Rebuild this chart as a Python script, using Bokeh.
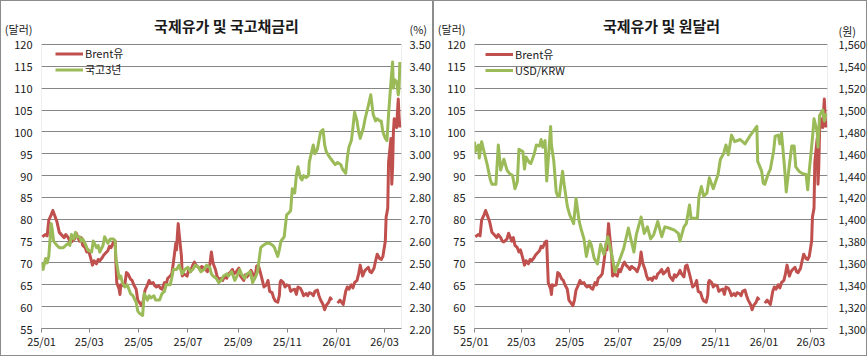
import numpy as np
import pandas as pd
from bokeh.plotting import figure
from bokeh.layouts import row
from bokeh.models import (Range1d, LinearAxis, FixedTicker, DatetimeTickFormatter,
                          NumeralTickFormatter, Label, Legend, LegendItem, ColumnDataSource,
                          BoxAnnotation)
from bokeh.embed import file_html
from bokeh.resources import INLINE

# ---------------- data ----------------
brent_dates = [
    "2025-01-02", "2025-01-06", "2025-01-08", "2025-01-10", "2025-01-13", "2025-01-15", "2025-01-17",
    "2025-01-20", "2025-01-23", "2025-01-27", "2025-01-29", "2025-01-31", "2025-02-03", "2025-02-05",
    "2025-02-07", "2025-02-11", "2025-02-13", "2025-02-17", "2025-02-19", "2025-02-21", "2025-02-24",
    "2025-02-26", "2025-02-28", "2025-03-03", "2025-03-05", "2025-03-07", "2025-03-10", "2025-03-12",
    "2025-03-14", "2025-03-17", "2025-03-19", "2025-03-21", "2025-03-24", "2025-03-26", "2025-03-28",
    "2025-03-31", "2025-04-02", "2025-04-03", "2025-04-04", "2025-04-07", "2025-04-08", "2025-04-09",
    "2025-04-11", "2025-04-14", "2025-04-16", "2025-04-18", "2025-04-21", "2025-04-23", "2025-04-25",
    "2025-04-28", "2025-04-30", "2025-05-02", "2025-05-05", "2025-05-07", "2025-05-09", "2025-05-12",
    "2025-05-14", "2025-05-16", "2025-05-19", "2025-05-21", "2025-05-23", "2025-05-26", "2025-05-28",
    "2025-05-30", "2025-06-02", "2025-06-04", "2025-06-06", "2025-06-09", "2025-06-11", "2025-06-13",
    "2025-06-16", "2025-06-17", "2025-06-18", "2025-06-19", "2025-06-20", "2025-06-23", "2025-06-24",
    "2025-06-26", "2025-06-30", "2025-07-02", "2025-07-04", "2025-07-07", "2025-07-09", "2025-07-11",
    "2025-07-14", "2025-07-16", "2025-07-18", "2025-07-21", "2025-07-23", "2025-07-25", "2025-07-28",
    "2025-07-30", "2025-08-01", "2025-08-04", "2025-08-06", "2025-08-08", "2025-08-11", "2025-08-13",
    "2025-08-15", "2025-08-18", "2025-08-20", "2025-08-22", "2025-08-25", "2025-08-27", "2025-08-29",
    "2025-09-02", "2025-09-04", "2025-09-08", "2025-09-10", "2025-09-12", "2025-09-15", "2025-09-17",
    "2025-09-19", "2025-09-22", "2025-09-24", "2025-09-26", "2025-09-29", "2025-10-01", "2025-10-03",
    "2025-10-06", "2025-10-08", "2025-10-10", "2025-10-13", "2025-10-15", "2025-10-17", "2025-10-20",
    "2025-10-22", "2025-10-23", "2025-10-24", "2025-10-27", "2025-10-29", "2025-10-31", "2025-11-03",
    "2025-11-05", "2025-11-07", "2025-11-10", "2025-11-12", "2025-11-14", "2025-11-17", "2025-11-19",
    "2025-11-21", "2025-11-24", "2025-11-26", "2025-11-28", "2025-12-01", "2025-12-03", "2025-12-05",
    "2025-12-08", "2025-12-10", "2025-12-12", "2025-12-15", "2025-12-17", "2025-12-19", "2025-12-22",
    "2025-12-24", "2025-12-26", "2025-12-29", "2026-01-02", "2026-01-05", "2026-01-07", "2026-01-09",
    "2026-01-12", "2026-01-14", "2026-01-16", "2026-01-19", "2026-01-21", "2026-01-23", "2026-01-26",
    "2026-01-28", "2026-01-30", "2026-02-02", "2026-02-04", "2026-02-06", "2026-02-09", "2026-02-11",
    "2026-02-13", "2026-02-16", "2026-02-18", "2026-02-20", "2026-02-23", "2026-02-25", "2026-02-27",
    "2026-03-02", "2026-03-03", "2026-03-04", "2026-03-05", "2026-03-06", "2026-03-09", "2026-03-10",
    "2026-03-11", "2026-03-12", "2026-03-13", "2026-03-16", "2026-03-17", "2026-03-18", "2026-03-19",
    "2026-03-20",
]
brent_vals = [
    76.0, 76.5, 76.2, 79.8, 81.0, 82.0, 81.0,
    79.5, 77.0, 76.2, 75.8, 76.5, 75.8, 75.0,
    74.8, 75.5, 76.8, 75.0, 75.8, 74.0, 73.5,
    72.5, 73.0, 71.0, 69.5, 70.5, 69.8, 70.8,
    70.5, 71.2, 71.8, 72.2, 72.8, 73.8, 73.5,
    74.8, 75.0, 70.0, 65.5, 64.0, 62.8, 65.0,
    64.8, 65.0, 67.8, 67.5, 66.3, 66.0, 65.0,
    64.0, 61.5, 61.0, 60.2, 61.5, 63.8, 65.0,
    66.0, 65.3, 65.5, 64.8, 64.5, 64.8, 64.2,
    64.0, 65.5, 65.0, 66.5, 67.0, 67.5, 70.0,
    74.5, 73.0, 76.5, 79.0, 77.0, 71.5, 67.0,
    67.5, 67.0, 68.5, 68.0, 69.5, 70.2, 69.5,
    69.0, 68.5, 69.2, 68.8, 68.5, 68.0, 69.5,
    72.5, 70.0, 68.5, 67.0, 66.2, 66.5, 66.0,
    66.8, 66.5, 67.5, 67.8, 68.5, 67.5, 67.8,
    68.8, 67.0, 66.0, 67.3, 66.8, 67.5, 68.3,
    67.5, 66.8, 69.3, 69.5, 67.5, 66.0, 64.5,
    65.0, 66.0, 63.5, 63.2, 62.0, 61.3, 61.0,
    62.5, 65.5, 66.0, 65.5, 64.5, 65.0, 64.8,
    63.5, 63.8, 64.0, 62.8, 64.5, 64.2, 63.5,
    62.5, 63.0, 62.5, 63.2, 63.0, 62.5, 63.5,
    63.8, 62.5, 61.5, 60.5, 59.3, 60.3, 61.0,
    62.0, 61.5, float("nan"), 60.8, 61.5, 61.0, 60.5,
    63.5, 64.5, 64.0, 65.0, 64.3, 65.5, 66.0,
    67.5, 69.5, 67.0, 68.0, 68.5, 69.0, 68.0,
    67.8, 68.8, 70.5, 72.0, 71.0, 70.8, 71.5,
    75.0, 80.5, 81.5, 82.5, 93.0, 98.5, 88.0,
    92.0, 100.0, 103.0, 101.0, 104.5, 107.5, 103.5,
    101.0,
]

ktb3_dates = [
    "2025-01-02", "2025-01-03", "2025-01-06", "2025-01-08", "2025-01-10", "2025-01-13", "2025-01-14",
    "2025-01-16", "2025-01-20", "2025-01-23", "2025-01-28", "2025-01-31", "2025-02-03", "2025-02-05",
    "2025-02-07", "2025-02-10", "2025-02-12", "2025-02-14", "2025-02-17", "2025-02-19", "2025-02-21",
    "2025-02-25", "2025-02-27", "2025-03-04", "2025-03-06", "2025-03-10", "2025-03-12", "2025-03-14",
    "2025-03-18", "2025-03-20", "2025-03-24", "2025-03-27", "2025-03-31", "2025-04-02", "2025-04-03",
    "2025-04-07", "2025-04-09", "2025-04-11", "2025-04-14", "2025-04-17", "2025-04-21", "2025-04-24",
    "2025-04-28", "2025-04-30", "2025-05-02", "2025-05-06", "2025-05-08", "2025-05-12", "2025-05-14",
    "2025-05-16", "2025-05-20", "2025-05-22", "2025-05-27", "2025-05-30", "2025-06-02", "2025-06-04",
    "2025-06-09", "2025-06-11", "2025-06-13", "2025-06-17", "2025-06-20", "2025-06-24", "2025-06-27",
    "2025-07-01", "2025-07-04", "2025-07-07", "2025-07-10", "2025-07-14", "2025-07-17", "2025-07-21",
    "2025-07-24", "2025-07-28", "2025-07-30", "2025-08-01", "2025-08-05", "2025-08-08", "2025-08-11",
    "2025-08-14", "2025-08-18", "2025-08-20", "2025-08-24", "2025-08-28", "2025-09-01", "2025-09-03",
    "2025-09-05", "2025-09-09", "2025-09-12", "2025-09-16", "2025-09-19", "2025-09-23", "2025-09-25",
    "2025-09-29", "2025-10-02", "2025-10-06", "2025-10-10", "2025-10-14", "2025-10-16", "2025-10-20",
    "2025-10-22", "2025-10-24", "2025-10-28", "2025-10-31", "2025-11-03", "2025-11-05", "2025-11-07",
    "2025-11-10", "2025-11-12", "2025-11-14", "2025-11-17", "2025-11-19", "2025-11-21", "2025-11-24",
    "2025-11-27", "2025-11-28", "2025-12-01", "2025-12-03", "2025-12-05", "2025-12-08", "2025-12-10",
    "2025-12-12", "2025-12-15", "2025-12-17", "2025-12-19", "2025-12-22", "2025-12-24", "2025-12-26",
    "2025-12-30", "2026-01-02", "2026-01-06", "2026-01-08", "2026-01-12", "2026-01-14", "2026-01-16",
    "2026-01-19", "2026-01-21", "2026-01-23", "2026-01-26", "2026-01-28", "2026-01-30", "2026-02-03",
    "2026-02-05", "2026-02-09", "2026-02-12", "2026-02-15", "2026-02-18", "2026-02-20", "2026-02-23",
    "2026-02-25", "2026-02-27", "2026-03-02", "2026-03-04", "2026-03-06", "2026-03-09", "2026-03-11",
    "2026-03-12", "2026-03-13", "2026-03-16", "2026-03-17", "2026-03-18", "2026-03-19", "2026-03-20",
]
ktb3_vals = [
    2.50, 2.47, 2.52, 2.50, 2.53, 2.68, 2.66,
    2.60, 2.58, 2.57, 2.57, 2.58, 2.59, 2.58,
    2.63, 2.61, 2.64, 2.62, 2.62, 2.60, 2.61,
    2.58, 2.56, 2.55, 2.60, 2.57, 2.58, 2.55,
    2.58, 2.62, 2.59, 2.61, 2.61, 2.60, 2.52,
    2.43, 2.44, 2.41, 2.39, 2.40, 2.36, 2.35,
    2.32, 2.28, 2.27, 2.26, 2.36, 2.33, 2.35,
    2.34, 2.35, 2.33, 2.33, 2.36, 2.37, 2.40,
    2.40, 2.43, 2.47, 2.47, 2.49, 2.45, 2.47,
    2.48, 2.46, 2.47, 2.49, 2.48, 2.46, 2.47,
    2.49, 2.48, 2.45, 2.44, 2.43, 2.41, 2.42,
    2.44, 2.45, 2.44, 2.46, 2.42, 2.45, 2.47,
    2.45, 2.43, 2.45, 2.46, 2.41, 2.44, 2.46,
    2.57, 2.58, 2.59, 2.59, 2.58, 2.57, 2.53,
    2.56, 2.60, 2.62, 2.72, 2.73, 2.74, 2.84,
    2.82, 2.90, 2.94, 2.89, 2.88, 2.90, 2.89,
    2.90, 2.96, 3.01, 3.04, 3.00, 3.02, 3.06,
    3.10, 3.11, 3.04, 3.01, 2.99, 2.98, 2.97,
    2.95, 2.96, 2.95, 2.93, 2.91, 2.98, 3.03,
    3.06, 3.12, 3.19, 3.15, 3.10, 3.07, 3.12,
    3.16, 3.22, 3.27, 3.18, 3.15, 3.16, 3.15,
    3.15, 3.10, 3.07, 3.06, 3.18, 3.33, 3.42,
    3.30, 3.34, 3.33, 3.30, 3.27, 3.30, 3.42,
]

krw_dates = [
    "2025-01-01", "2025-01-02", "2025-01-06", "2025-01-07", "2025-01-10", "2025-01-14", "2025-01-17",
    "2025-01-21", "2025-01-23", "2025-01-28", "2025-01-31", "2025-02-03", "2025-02-05", "2025-02-07",
    "2025-02-11", "2025-02-14", "2025-02-18", "2025-02-21", "2025-02-24", "2025-02-26", "2025-03-03",
    "2025-03-05", "2025-03-07", "2025-03-11", "2025-03-13", "2025-03-17", "2025-03-20", "2025-03-24",
    "2025-03-26", "2025-03-28", "2025-03-31", "2025-04-02", "2025-04-07", "2025-04-08", "2025-04-11",
    "2025-04-14", "2025-04-16", "2025-04-18", "2025-04-22", "2025-04-24", "2025-04-28", "2025-05-01",
    "2025-05-06", "2025-05-09", "2025-05-13", "2025-05-15", "2025-05-19", "2025-05-22", "2025-05-26",
    "2025-05-28", "2025-06-01", "2025-06-05", "2025-06-09", "2025-06-13", "2025-06-18", "2025-06-23",
    "2025-06-27", "2025-07-02", "2025-07-08", "2025-07-14", "2025-07-17", "2025-07-21", "2025-07-24",
    "2025-07-30", "2025-08-03", "2025-08-07", "2025-08-11", "2025-08-15", "2025-08-20", "2025-08-25",
    "2025-08-29", "2025-09-03", "2025-09-10", "2025-09-15", "2025-09-17", "2025-09-22", "2025-09-25",
    "2025-09-29", "2025-10-01", "2025-10-06", "2025-10-09", "2025-10-11", "2025-10-14", "2025-10-17",
    "2025-10-21", "2025-10-24", "2025-10-29", "2025-11-04", "2025-11-07", "2025-11-11", "2025-11-14",
    "2025-11-17", "2025-11-21", "2025-11-25", "2025-12-02", "2025-12-08", "2025-12-14", "2025-12-18",
    "2025-12-23", "2025-12-24", "2025-12-29", "2025-12-31", "2026-01-02", "2026-01-06", "2026-01-09",
    "2026-01-13", "2026-01-15", "2026-01-19", "2026-01-21", "2026-01-23", "2026-01-27", "2026-01-29",
    "2026-02-02", "2026-02-05", "2026-02-08", "2026-02-10", "2026-02-14", "2026-02-18", "2026-02-23",
    "2026-02-25", "2026-02-27", "2026-03-03", "2026-03-05", "2026-03-09", "2026-03-10", "2026-03-12",
    "2026-03-16", "2026-03-18", "2026-03-20",
]
krw_vals = [
    1471, 1462, 1468, 1456, 1471, 1459, 1450,
    1436, 1432, 1432, 1468, 1445, 1450, 1455,
    1445, 1442, 1440, 1428, 1434, 1464, 1462,
    1446, 1457, 1452, 1451, 1459, 1468, 1467,
    1473, 1466, 1472, 1435, 1485, 1468, 1453,
    1425, 1421, 1421, 1444, 1432, 1412, 1404,
    1396, 1419, 1398, 1392, 1382, 1366, 1380,
    1377, 1364, 1359, 1377, 1368, 1384, 1368,
    1352, 1361, 1373, 1392, 1382, 1370, 1386,
    1402, 1387, 1393, 1382, 1386, 1398, 1384,
    1393, 1392, 1390, 1387, 1380, 1393, 1396,
    1413, 1401, 1401, 1401, 1421, 1430, 1421,
    1424, 1438, 1428, 1441, 1455, 1460, 1468,
    1459, 1477, 1471, 1473, 1469, 1476, 1480,
    1485, 1453, 1444, 1433, 1432, 1441, 1446,
    1462, 1476, 1477, 1469, 1479, 1446, 1425,
    1450, 1467, 1467, 1448, 1444, 1442, 1441,
    1427, 1444, 1474, 1492, 1480, 1466, 1495,
    1500, 1490, 1497,
]

left_ticks = [55, 60, 65, 70, 75, 80, 85, 90, 95, 100, 105, 110, 115, 120]
pct_ticks = [2.20, 2.30, 2.40, 2.50, 2.60, 2.70, 2.80, 2.90, 3.00, 3.10, 3.20, 3.30, 3.40, 3.50]
krw_ticks = [1300, 1320, 1340, 1360, 1380, 1400, 1420, 1440, 1460, 1480, 1500, 1520, 1540, 1560]
x_tick_dates = ["2025-01-01", "2025-03-01", "2025-05-01", "2025-07-01", "2025-09-01",
                "2025-11-01", "2026-01-01", "2026-03-01"]

# unit captions, drawn as extra axis labels just above the top gridline
usd_unit_pos = 123.6
pct_unit_pos = 3.572
krw_unit_pos = 1572

# ---------------- styling ----------------
FONT = "Noto Sans CJK KR"
RED = "#C0504D"
GREEN = "#9BBB59"
GRID = "#868686"
TXT = "#1a1a1a"

Y_BOTTOM, Y_PLOT_TOP, Y_FRAME_TOP = 55, 120, 128.0   # frame extends above the plot area


def to_pct(v):
    return 2.20 + (v - 55) * 0.02


def to_krw(v):
    return 1300 + (v - 55) * 4


x_start = pd.Timestamp("2025-01-01")
x_end = pd.Timestamp("2026-03-22")
x_ticks = [pd.Timestamp(d).value // 10**6 for d in x_tick_dates]


def style_axis(ax, standoff=5, tick_out=4):
    ax.major_tick_line_color = GRID
    ax.minor_tick_line_color = None
    ax.major_tick_out = tick_out
    ax.major_tick_in = 0
    ax.major_label_standoff = standoff
    ax.major_label_text_font = FONT
    ax.major_label_text_font_size = "11px"
    ax.major_label_text_color = TXT


def make_panel(width, bl, br, title, lunit, runit, second_dates, second_vals, second_conv,
               second_ticks, second_unit_pos, second_fmt, r_standoff, legend_labels,
               legend_x, legend_y, label_h, title_x):
    p = figure(width=width, height=356, x_axis_type="datetime",
               x_range=Range1d(x_start, x_end), y_range=Range1d(Y_BOTTOM, Y_FRAME_TOP),
               output_backend="svg", toolbar_location=None, title=None,
               min_border_left=bl, min_border_right=br, min_border_top=8,
               min_border_bottom=29)
    p.background_fill_color = "white"
    p.border_fill_color = "white"
    p.outline_line_color = None
    p.xgrid.grid_line_color = None
    p.ygrid.grid_line_color = GRID
    p.ygrid.grid_line_width = 1
    p.ygrid.ticker = FixedTicker(ticks=left_ticks)

    # x axis
    p.xaxis.ticker = FixedTicker(ticks=x_ticks)
    p.xaxis.formatter = DatetimeTickFormatter(days="%y/%m", months="%y/%m", years="%y/%m")
    style_axis(p.xaxis[0], 0, 4)
    p.xaxis.axis_line_color = GRID

    # left axis (with unit caption at top)
    p.yaxis.ticker = FixedTicker(ticks=left_ticks + [usd_unit_pos])
    p.yaxis.major_label_overrides = {usd_unit_pos: lunit, str(usd_unit_pos): lunit}
    style_axis(p.yaxis[0], 9, 0)
    p.yaxis.axis_line_color = None

    # right axis (with unit caption at top)
    p.extra_y_ranges = {"second": Range1d(second_conv(Y_BOTTOM), second_conv(Y_FRAME_TOP))}
    ax2 = LinearAxis(y_range_name="second",
                     ticker=FixedTicker(ticks=second_ticks + [second_unit_pos]),
                     formatter=NumeralTickFormatter(format=second_fmt),
                     major_label_overrides={second_unit_pos: runit, str(second_unit_pos): runit})
    style_axis(ax2, r_standoff, 0)
    ax2.axis_line_color = None
    p.add_layout(ax2, "right")

    # plot-area border
    p.add_layout(BoxAnnotation(top=Y_PLOT_TOP, bottom=Y_BOTTOM, fill_alpha=0,
                               line_color=GRID, line_width=1))

    src1 = ColumnDataSource(dict(x=pd.to_datetime(brent_dates), y=brent_vals))
    src2 = ColumnDataSource(dict(x=pd.to_datetime(second_dates), y=second_vals))
    r1 = p.line("x", "y", source=src1, line_color=RED, line_width=3, line_join="round")
    r2 = p.line("x", "y", source=src2, line_color=GREEN, line_width=3, line_join="round",
                y_range_name="second")

    leg = Legend(items=[LegendItem(label=legend_labels[0], renderers=[r1]),
                        LegendItem(label=legend_labels[1], renderers=[r2])],
                 location=(legend_x, legend_y), padding=0, margin=0, spacing=0,
                 glyph_width=28, glyph_height=label_h, label_height=label_h,
                 label_standoff=2, label_text_font=FONT, label_text_font_size="11px",
                 label_text_color=TXT, background_fill_alpha=0, border_line_alpha=0)
    p.add_layout(leg)

    # title (inside the extended frame, above the plot area)
    p.add_layout(Label(x=title_x - bl, y=327 - 24, x_units="screen", y_units="screen",
                       text=title, text_align="center", text_baseline="middle",
                       text_font=FONT, text_font_size="15px", text_font_style="bold",
                       text_color=TXT))
    p.styles = {"border": "1px solid #8c8c8c", "box-sizing": "border-box"}
    return p


p1 = make_panel(433, 35, 33, "국제유가 및 국고채금리", "(달러)", "(%)",
                ktb3_dates, ktb3_vals, to_pct, pct_ticks, pct_unit_pos, "0.00", 8,
                ["Brent유", "국고3년"], 14, 251, 15, 220)
p2 = make_panel(434, 31, 39, "국제유가 및 원달러", "(달러)", "(원)",
                krw_dates, krw_vals, to_krw, krw_ticks, krw_unit_pos, "0,0", 11,
                ["Brent유", "USD/KRW"], 11, 250, 14, 218)

layout = row(p1, p2, spacing=0)
open("out.html", "w").write(file_html(layout, INLINE))
